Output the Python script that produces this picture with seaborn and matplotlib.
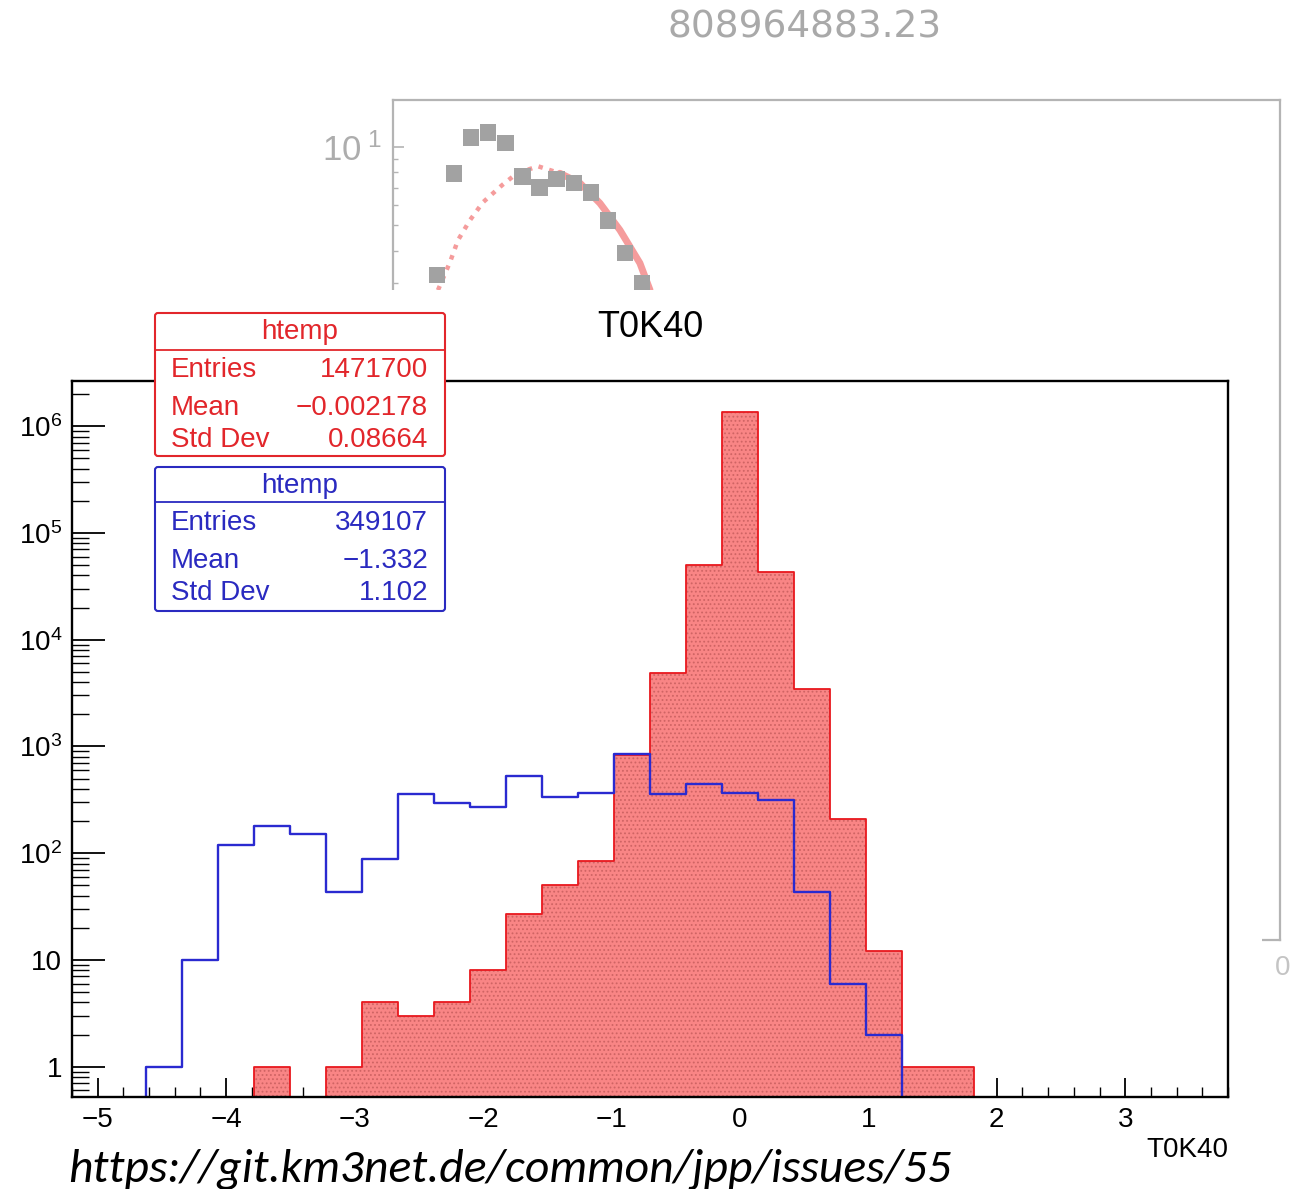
import numpy as np
import pandas as pd
import matplotlib
matplotlib.use("Agg")
import matplotlib.pyplot as plt
import seaborn as sns
from matplotlib import font_manager
from matplotlib.ticker import MultipleLocator, LogLocator, FuncFormatter, NullFormatter, NullLocator, FixedLocator
from matplotlib.patches import Rectangle, FancyBboxPatch

# ---------------- data ----------------
bin_low = -5.18
bin_width = 0.28
n_bins = 32

red_counts = [0, 0, 0, 0, 0, 1, 0, 1, 4, 3, 4, 8, 27, 50, 84, 830, 4900, 50000,
              1360000, 43500, 3440, 210, 12, 1, 1, 0, 0, 0, 0, 0, 0, 0]
blue_counts = [0, 0, 1, 10, 119, 179, 152, 43, 89, 360, 297, 270, 528, 336, 368, 845,
               360, 442, 368, 312, 43, 6, 2, 0, 0, 0, 0, 0, 0, 0, 0, 0]

x_ticks = [-5, -4, -3, -2, -1, 0, 1, 2, 3]

red_title = "htemp"
red_stats = [("Entries", "1471700"), ("Mean", "\u22120.002178"), ("Std Dev", "0.08664")]
blue_title = "htemp"
blue_stats = [("Entries", "349107"), ("Mean", "\u22121.332"), ("Std Dev", "1.102")]

main_title = "T0K40"
x_label = "T0K40"

# background (partially hidden) canvas
back_title = "808964883.23"
back_index = [0, 1, 2, 3, 4, 5, 6, 7, 8, 9, 10, 11, 12]
back_values = [3.22, 7.94, 10.9, 11.4, 10.4, 7.73, 7.0, 7.53, 7.28, 6.7, 5.23, 3.91, 3.0]
fit_dotted_x = [0.06, 0.76, 1.23, 1.93, 2.69, 3.80, 4.68, 5.91, 7.19]
fit_dotted_y = [2.82, 3.61, 4.39, 5.24, 6.14, 7.14, 7.94, 8.45, 7.94]
fit_solid_x = [7.19, 8.36, 9.53, 10.7, 11.87, 12.46]
fit_solid_y = [7.94, 7.28, 6.09, 4.8, 3.58, 2.82]

url_text = "https://git.km3net.de/common/jpp/issues/55"

# ---------------- style ----------------
sns.set_style("white")
plt.rcParams["font.family"] = ["Liberation Sans", "DejaVu Sans"]
plt.rcParams["mathtext.fontset"] = "custom"
plt.rcParams["mathtext.rm"] = "Liberation Sans"
plt.rcParams["mathtext.it"] = "Liberation Sans:italic"
plt.rcParams["mathtext.bf"] = "Liberation Sans:bold"
plt.rcParams["hatch.linewidth"] = 0.8
plt.rcParams["axes.unicode_minus"] = True
plt.rcParams["text.color"] = "black"
plt.rcParams["axes.labelcolor"] = "black"
plt.rcParams["axes.titlecolor"] = "black"

RED_FILL = "#F98585"
RED_HATCH = "#CF6464"
RED_LINE = "#E8181E"
BLUE_LINE = "#2A2AD0"
RED_TXT = "#E2262B"
BLUE_TXT = "#2A2AC0"
GRAY = "#B4B4B4"
GRAY_MK = "#A2A2A2"
FIT = "#F59C9C"

W, H = 1299, 1189
fig = plt.figure(figsize=(W / 100, H / 100), dpi=100)
fig.patch.set_facecolor("white")


def fig_rect(l, t, r, b):
    return [l / W, 1 - b / H, (r - l) / W, (b - t) / H]


# ---------------- background canvas ----------------
ax_back = fig.add_axes(fig_rect(393, 100, 1280, 940), zorder=0)
ax_back.set_yscale("log")
sns.scatterplot(x=back_index, y=back_values, marker="s", s=140, color=GRAY_MK,
                edgecolor="none", ax=ax_back, zorder=3, legend=False)
sns.lineplot(x=fit_dotted_x, y=fit_dotted_y, sort=False, ax=ax_back, color=FIT,
             lw=3.2, linestyle=(0, (1, 1.5)), zorder=2)
sns.lineplot(x=fit_solid_x, y=fit_solid_y, sort=False, ax=ax_back, color=FIT,
             lw=5, zorder=2)
ax_back.set_xlim(-2.57, 49.3)
ax_back.set_ylim(0.0089, 15.2)
for sp in ax_back.spines.values():
    sp.set_color(GRAY)
    sp.set_linewidth(1.6)
ax_back.xaxis.set_major_locator(NullLocator())
ax_back.yaxis.set_major_locator(LogLocator(base=10, numticks=20))
ax_back.yaxis.set_minor_locator(LogLocator(base=10, subs=np.arange(2, 10), numticks=100))
ax_back.yaxis.set_minor_formatter(NullFormatter())
ax_back.yaxis.set_major_formatter(FuncFormatter(lambda v, p: r"$10^{\ %d}$" % int(round(np.log10(v)))))
ax_back.tick_params(axis="y", which="both", direction="in", left=True, colors=GRAY,
                    labelcolor="#ADADAD", labelsize=25, pad=8)
ax_back.tick_params(axis="y", which="major", length=8, width=1.2)
ax_back.tick_params(axis="y", which="minor", length=3.5, width=1.0)
ax_back.set_xlabel("")
ax_back.set_ylabel("")

# cover of the front canvas
cover = Rectangle((0, 0), 1262 / W, (H - 290) / H, transform=fig.transFigure,
                  facecolor="white", edgecolor="none", zorder=1)
fig.add_artist(cover)

# ---------------- main histogram ----------------
edges = [round(bin_low + bin_width * i, 4) for i in range(n_bins + 1)]
centers = [e + bin_width / 2 for e in edges[:-1]]
df = pd.DataFrame({"T0K40": centers, "red": red_counts, "blue": blue_counts})

ax = fig.add_axes(fig_rect(72, 381, 1228, 1097), zorder=2)
ax.set_yscale("log")
sns.histplot(data=df, x="T0K40", weights="red", bins=edges, element="step", fill=True,
             color=RED_FILL, alpha=1, facecolor=RED_FILL, edgecolor=RED_HATCH,
             linewidth=0, hatch="....", ax=ax, zorder=1)
sns.histplot(data=df, x="T0K40", weights="red", bins=edges, element="step", fill=False,
             color=RED_LINE, linewidth=1.3, ax=ax, zorder=2)
sns.histplot(data=df, x="T0K40", weights="blue", bins=edges, element="step", fill=False,
             color=BLUE_LINE, linewidth=1.7, ax=ax, zorder=3)

ax.set_xlim(edges[0] - 0.02, edges[-1] + 0.02)
ax.set_ylim(0.52, 2.65e6)
ax.set_ylabel("")
for sp in ax.spines.values():
    sp.set_color("black")
    sp.set_linewidth(1.7)
    sp.set_zorder(5)

ax.xaxis.set_major_locator(FixedLocator(x_ticks))
ax.xaxis.set_minor_locator(MultipleLocator(0.2))
ax.yaxis.set_major_locator(LogLocator(base=10, numticks=20))
ax.yaxis.set_minor_locator(LogLocator(base=10, subs=np.arange(2, 10), numticks=100))
ax.yaxis.set_minor_formatter(NullFormatter())


def ylab(v, pos):
    e = int(round(np.log10(v)))
    if e == 0:
        return "1"
    if e == 1:
        return "10"
    return r"$10^{%d}$" % e


ax.yaxis.set_major_formatter(FuncFormatter(ylab))
ax.tick_params(axis="both", which="both", direction="in", bottom=True, left=True,
               top=False, right=False, colors="black", labelcolor="black",
               labelsize=20, pad=7)
ax.tick_params(axis="y", which="major", length=24, width=1.3)
ax.tick_params(axis="y", which="minor", length=12, width=1.0)
ax.tick_params(axis="x", which="major", length=14, width=1.3)
ax.tick_params(axis="x", which="minor", length=7, width=1.0)

ax.set_title(main_title, fontsize=26, pad=32, color="black")
ax.set_xlabel(x_label, loc="right", fontsize=20, labelpad=3, color="black")

# ---------------- overlay (stat boxes, texts) ----------------
ov = fig.add_axes([0, 0, 1, 1], zorder=5)
ov.set_xlim(0, W)
ov.set_ylim(H, 0)
ov.axis("off")

ov.text(805, 38, back_title, ha="center", va="baseline", fontsize=27,
        color="#A9A9A9", family="DejaVu Sans")
ov.text(1283, 975, "0", ha="center", va="baseline", fontsize=20, color="#C4C4C4")


def stat_box(y0, y1, yhead, color, title, title_base, rows, row_bases):
    box = FancyBboxPatch((155, y0), 290, y1 - y0,
                         boxstyle="round,pad=0,rounding_size=3",
                         facecolor="white", edgecolor=color, linewidth=1.5)
    ov.add_patch(box)
    ov.plot([155, 445], [yhead, yhead], color=color, lw=1.3)
    ov.text(300, title_base, title, ha="center", va="baseline", fontsize=20, color=color)
    for (k, v), b in zip(rows, row_bases):
        ov.text(171, b, k, ha="left", va="baseline", fontsize=20, color=color)
        ov.text(428, b, v, ha="right", va="baseline", fontsize=20, color=color)


stat_box(313, 456, 350, RED_TXT, red_title, 339, red_stats, [377, 415, 447])
stat_box(467, 611, 502, BLUE_TXT, blue_title, 493, blue_stats, [530, 568, 600])

# URL footer in an italic font
cands = ["Carlito", "Open Sans", "Lato", "Noto Sans", "Liberation Sans", "DejaVu Sans"]
names_italic = {f.name for f in font_manager.fontManager.ttflist if f.style == "italic"}
url_family = next((c for c in cands if c in names_italic), "DejaVu Sans")
url = ov.text(68, 1182, url_text, ha="left", va="baseline", fontsize=32,
              style="italic", family=url_family, color="black")
fig.canvas.draw()
w = url.get_window_extent().width
url.set_fontsize(32 * 884 / w)

fig.savefig("out.png", dpi=100, facecolor="white")
